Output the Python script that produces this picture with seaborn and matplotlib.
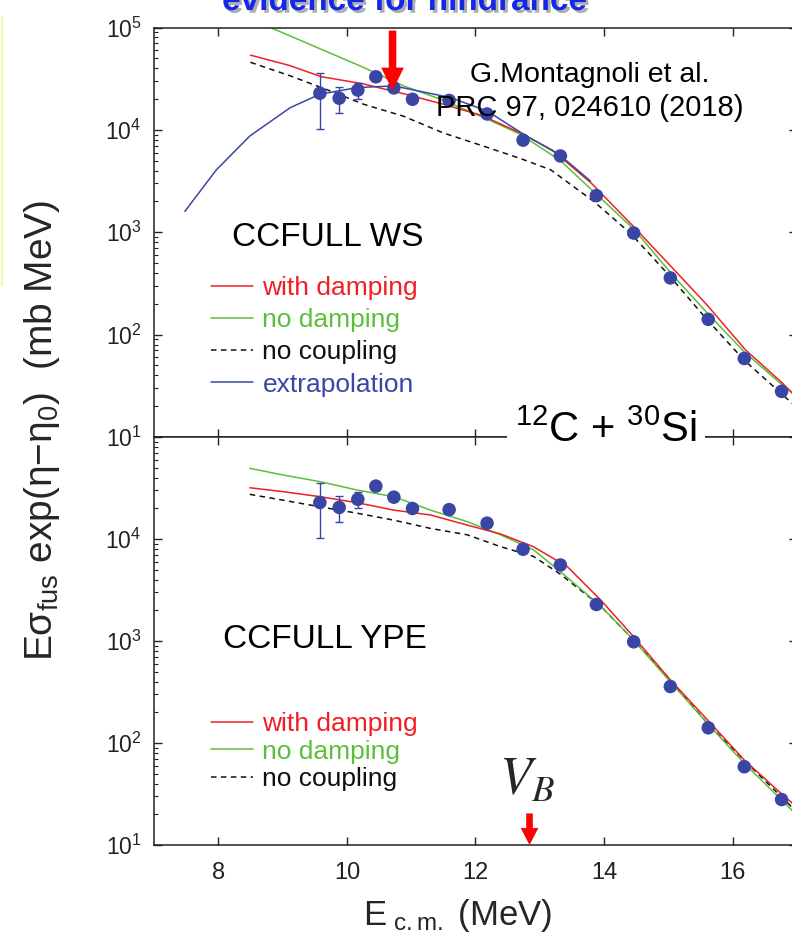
import numpy as np
import pandas as pd
import matplotlib
matplotlib.use("Agg")
import matplotlib.pyplot as plt
import seaborn as sns
from matplotlib.ticker import FixedLocator, LogLocator, NullLocator, FuncFormatter, NullFormatter
import matplotlib.patheffects as pe
from matplotlib.lines import Line2D

# ---------------- data ----------------
e_exp = [9.58, 9.88, 10.17, 10.45, 10.73, 11.02, 11.59, 12.18, 12.74, 13.32, 13.88, 14.46, 15.03, 15.62, 16.18, 16.76]
s_exp = [22800, 20400, 24500, 33000, 25700, 19900, 19400, 14300, 7940, 5560, 2280, 982, 358, 141, 58.5, 27.9]
err_lo = [12500, 5700, 4300, 2900, 0, 0, 0, 0, 0, 0, 0, 0, 0, 0, 0, 0]
err_hi = [13000, 5900, 4500, 3200, 0, 0, 0, 0, 0, 0, 0, 0, 0, 0, 0, 0]

# CCFULL WS (top panel)
ws_damp_x = [8.5, 9.1, 9.6, 10.25, 10.9, 11.5, 12.1, 12.7, 13.2, 13.8, 14.45, 15.05, 15.6, 16.2, 16.75, 17.0]
ws_damp_y = [53700, 42700, 33100, 28200, 22400, 17800, 13800, 9330, 6310, 3020, 1150, 457, 195, 70.8, 34.7, 24.0]
ws_nodamp_x = [8.5, 8.73, 9.53, 10.26, 10.88, 11.45, 12.13, 12.7, 13.32, 13.9, 14.47, 15.04, 15.61, 16.18, 16.75, 17.0]
ws_nodamp_y = [120000, 105000, 64000, 40700, 26900, 20000, 13200, 9040, 5010, 2290, 1060, 398, 161, 67.8, 33.1, 25.1]
ws_nocoup_x = [8.5, 9.12, 9.74, 10.26, 10.88, 11.5, 12.13, 12.7, 13.17, 13.84, 14.41, 14.98, 15.61, 16.18, 16.94]
ws_nocoup_y = [45700, 33700, 24000, 17800, 13600, 9330, 6920, 5250, 4070, 2000, 977, 398, 138, 56.2, 20.9]
ws_extra_x = [7.48, 7.97, 8.49, 9.12, 9.58, 10.16, 10.73, 11.04, 11.61, 12.18, 12.75, 13.3, 13.79]
ws_extra_y = [1600, 4070, 8710, 16500, 22300, 25900, 26900, 24500, 20700, 15300, 9040, 5750, 3160]

# CCFULL YPE (bottom panel)
ype_damp_x = [8.49, 9.01, 9.58, 10.16, 10.73, 11.3, 11.87, 12.39, 12.9, 13.43, 13.95, 14.46, 15.03, 15.61, 16.18, 16.75, 17.0]
ype_damp_y = [31800, 29100, 26000, 22700, 19200, 17200, 13700, 11200, 8410, 5350, 2510, 1100, 415, 168, 68.1, 32.1, 23.4]
ype_nodamp_x = [8.49, 9.01, 9.58, 10.16, 10.73, 11.3, 11.87, 12.39, 12.9, 13.32, 13.95, 14.46, 15.03, 15.61, 16.18, 16.94]
ype_nodamp_y = [49300, 42400, 36500, 30200, 26000, 19200, 14800, 11000, 7850, 4790, 2190, 1020, 398, 155, 63.1, 21.4]
ype_nocoup_x = [8.49, 9.01, 9.58, 10.16, 10.73, 11.3, 11.87, 12.39, 12.9, 13.32, 13.95, 14.46, 15.03, 15.61, 16.18, 16.94]
ype_nocoup_y = [27400, 24000, 20700, 17900, 15300, 12700, 11000, 8410, 6760, 4520, 2190, 1020, 417, 155, 67.6, 22.9]

hindrance_e = 10.71          # top red arrow
hindrance_y = [24000, 93300]  # tip, tail
vb_e = 12.84                 # Coulomb barrier arrow
vb_y = [10, 20.4]

x_ticks = [8, 10, 12, 14, 16, 18]
legend_labels_ws = ["with damping", "no damping", "no coupling", "extrapolation"]
legend_labels_ype = ["with damping", "no damping", "no coupling"]

# ---------------- style ----------------
W, H = 792, 943
sns.set_style("ticks")
plt.rcParams["font.family"] = ["Liberation Sans", "DejaVu Sans"]
plt.rcParams["mathtext.fontset"] = "custom"
plt.rcParams["mathtext.rm"] = "Liberation Sans"
plt.rcParams["mathtext.it"] = "Liberation Sans:italic"
plt.rcParams["mathtext.bf"] = "Liberation Sans:bold"

RED = "#ee2024"
GREEN = "#5cbf3a"
BLACK = "#111111"
BLUE = "#3a46a6"

fig = plt.figure(figsize=(W / 100, H / 100), dpi=100)


def fx(px):
    return px / W


def fy(py):
    return 1 - py / H


L, R = 154, 797
ax_top = fig.add_axes([fx(L), fy(437), (R - L) / W, (437 - 27.5) / H])
ax_bot = fig.add_axes([fx(L), fy(845), (R - L) / W, (845 - 437) / H])


def style_axis(ax, show_top_label=True):
    ax.set_yscale("log")
    ax.set_xlim(7, 17)
    ax.set_ylim(10, 1e5)
    ax.xaxis.set_major_locator(FixedLocator(x_ticks))
    ax.xaxis.set_minor_locator(NullLocator())
    ax.yaxis.set_major_locator(LogLocator(base=10, numticks=10))
    ax.yaxis.set_minor_locator(LogLocator(base=10, subs=np.arange(2, 10), numticks=20))
    ax.yaxis.set_minor_formatter(NullFormatter())

    def fmt(v, pos):
        e = int(round(np.log10(v)))
        if e == 5 and not show_top_label:
            return ""
        return r"$\mathdefault{10^{%d}}$" % e

    ax.yaxis.set_major_formatter(FuncFormatter(fmt))
    ax.tick_params(which="both", direction="in", top=True, right=True, colors="#222222")
    ax.tick_params(which="major", length=6, width=1.0)
    ax.tick_params(which="minor", length=3, width=0.8)
    ax.tick_params(axis="y", labelsize=16.5, pad=9)
    ax.tick_params(axis="x", labelsize=17, pad=12)
    for s in ax.spines.values():
        s.set_color("#222222")
        s.set_linewidth(1.1)
    ax.set_xlabel("")
    ax.set_ylabel("")


def draw_exp(ax):
    sns.scatterplot(x=e_exp, y=s_exp, ax=ax, color=BLUE, s=95, edgecolor="none", zorder=5, legend=False)
    idx = [i for i in range(len(e_exp)) if err_lo[i] > 0]
    ax.errorbar([e_exp[i] for i in idx], [s_exp[i] for i in idx],
                yerr=[[err_lo[i] for i in idx], [err_hi[i] for i in idx]],
                fmt="none", ecolor=BLUE, elinewidth=1.0, capsize=3, capthick=1.0, zorder=4)


def line(ax, x, y, color, label, dashed=False):
    sns.lineplot(x=x, y=y, ax=ax, color=color, lw=1.1, label=label, estimator=None,
                 errorbar=None, sort=False, legend=False)
    ln = ax.get_lines()[-1]
    if dashed:
        ln.set_dashes((3.6, 2.9))
    return ln


LEG_KW = dict(loc="upper left", bbox_transform=fig.transFigure, frameon=False, fontsize=19,
              handlelength=1.6, handletextpad=0.35, borderpad=0, borderaxespad=0)

# ---- top panel ----
h1 = line(ax_top, ws_nocoup_x, ws_nocoup_y, BLACK, "no coupling", dashed=True)
h2 = line(ax_top, ws_nodamp_x, ws_nodamp_y, GREEN, "no damping")
h3 = line(ax_top, ws_damp_x, ws_damp_y, RED, "with damping")
h4 = line(ax_top, ws_extra_x, ws_extra_y, BLUE, "extrapolation")
draw_exp(ax_top)
style_axis(ax_top, True)
ax_top.tick_params(axis="x", labelbottom=False)

ax_top.legend(handles=[h3, h2, h1, h4], labels=legend_labels_ws,
              bbox_to_anchor=(fx(211), fy(276)), labelspacing=0.31,
              labelcolor=[RED, GREEN, BLACK, BLUE], **LEG_KW)

ax_top.annotate("", xy=(hindrance_e, hindrance_y[0]), xytext=(hindrance_e, hindrance_y[1]),
                arrowprops=dict(arrowstyle="simple,head_length=16.8,head_width=16.3,tail_width=5.4",
                                color="#ff0000", mutation_scale=1, shrinkA=0, shrinkB=0, lw=0),
                zorder=6)

# ---- bottom panel ----
g1 = line(ax_bot, ype_nocoup_x, ype_nocoup_y, BLACK, "no coupling", dashed=True)
g2 = line(ax_bot, ype_nodamp_x, ype_nodamp_y, GREEN, "no damping")
g3 = line(ax_bot, ype_damp_x, ype_damp_y, RED, "with damping")
draw_exp(ax_bot)
style_axis(ax_bot, False)

ax_bot.legend(handles=[g3, g2, g1], labels=legend_labels_ype,
              bbox_to_anchor=(fx(211), fy(712)), labelspacing=0.14,
              labelcolor=[RED, GREEN, BLACK], **LEG_KW)

ax_bot.annotate("", xy=(vb_e, vb_y[0]), xytext=(vb_e, vb_y[1]),
                arrowprops=dict(arrowstyle="simple,head_length=12.2,head_width=12.7,tail_width=4.8",
                                color="#ff0000", mutation_scale=1, shrinkA=0, shrinkB=0, lw=0),
                zorder=6, annotation_clip=False)

# ---------------- texts ----------------
fig.text(fx(590), fy(75), "G.Montagnoli et al.", ha="center", va="center", fontsize=20.5, color="black")
fig.text(fx(590), fy(108), "PRC 97, 024610 (2018)", ha="center", va="center", fontsize=21, color="black")
fig.text(fx(328), fy(237), "CCFULL WS", ha="center", va="center", fontsize=24, color="black")
fig.text(fx(325), fy(640), "CCFULL YPE", ha="center", va="center", fontsize=24, color="black")
fig.text(fx(606), fy(431), r"$^{12}$C + $^{30}$Si", ha="center", va="center", fontsize=30, color="black",
         bbox=dict(facecolor="white", edgecolor="none", pad=6), zorder=10)
fig.text(fx(527), fy(781), r"$V_B$", ha="center", va="center", fontsize=38, math_fontfamily="stix")

fig.text(fx(405), fy(10), "evidence for hindrance", ha="center", va="baseline", fontsize=24,
         fontweight="bold", color="#1428e8",
         path_effects=[pe.withSimplePatchShadow(offset=(2, -2), shadow_rgbFace="#9a9a9a", alpha=0.8)])

fig.text(fx(42), fy(430), "Eσ$_{\\rm fus}$ exp(η−η$_{\\rm 0}$)  (mb MeV)", rotation=90,
         ha="center", va="center", fontsize=28)
fig.text(fx(458), fy(916), "E$_{\\rm\\ c.m.}$ (MeV)", ha="center", va="center", fontsize=25)

fig.add_artist(Line2D([fx(2), fx(2)], [fy(17), fy(285)], color="#f8f4a8", lw=1.5))

fig.savefig("out.png", dpi=100)
